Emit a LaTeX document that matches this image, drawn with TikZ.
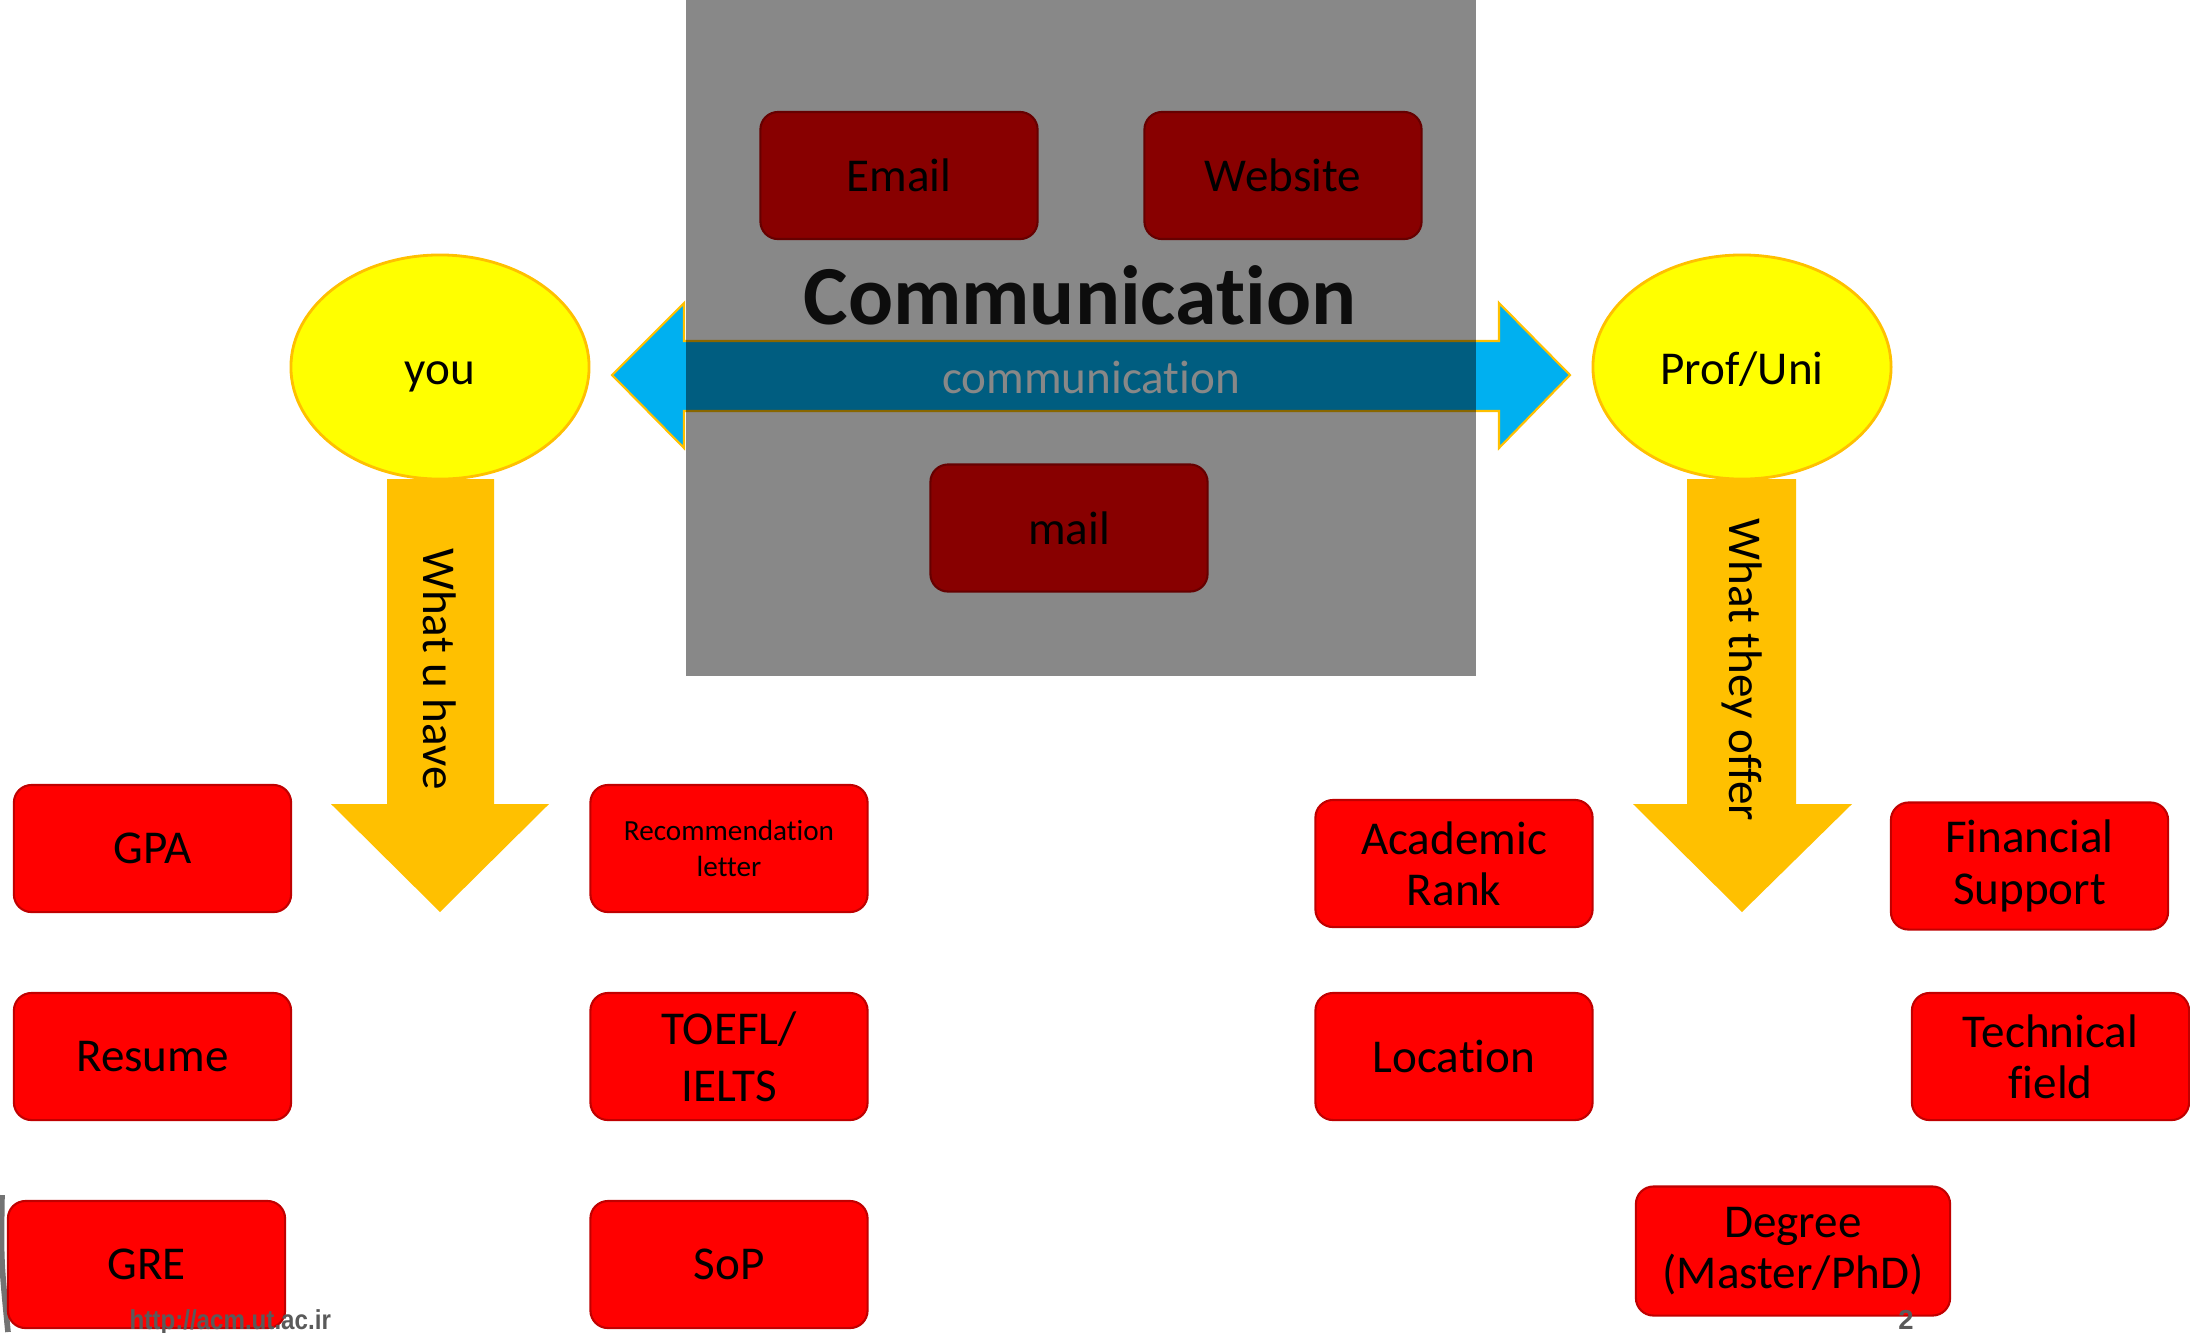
\documentclass[tikz,border=0pt]{standalone}
\usepackage{fontspec}
\setmainfont{Carlito}[Ligatures=NoCommon]
\newfontfamily\footfont{Liberation Sans}
\usetikzlibrary{shapes.geometric}
\definecolor{boxred}{HTML}{FF0000}
\definecolor{boxborder}{HTML}{C00000}
\definecolor{ellfill}{HTML}{FFFF00}
\definecolor{gold}{HTML}{FFC000}
\definecolor{skyblue}{HTML}{00B0F0}
\definecolor{footgray}{HTML}{5A5A5A}
\newcommand{\mainsize}{\fontsize{13.4}{14.6}\selectfont}
\begin{document}
\begin{tikzpicture}[x=0.01cm,y=-0.01cm,
  redbox/.style={draw=boxborder, fill=boxred, line width=0.6pt, rounded corners=5pt,
    minimum width=2.77cm, minimum height=1.27cm, align=center, inner sep=0pt, font=\mainsize},
  ellnode/.style={ellipse, draw=gold, fill=ellfill, line width=0.8pt,
    minimum width=2.98cm, minimum height=2.24cm, inner sep=0pt, font=\mainsize,
    text height=0.34cm, text depth=0pt},
  bigarrow/.style={fill=gold},
  arrowlabel/.style={font=\mainsize, rotate=-90, inner sep=0pt},
  footer/.style={font=\footfont\bfseries\fontsize{7.8}{9}\selectfont, text=footgray, inner sep=0pt}]
\clip (0,0) rectangle (2190,1332);
\fill[white] (0,0) rectangle (2190,1332);

% blue double arrow
\filldraw[fill=skyblue, draw=gold, line width=0.6pt]
  (612,375) -- (684,303) -- (684,341) -- (1499,341) -- (1499,303) -- (1570,375)
  -- (1499,448) -- (1499,411) -- (684,411) -- (684,448) -- cycle;
\node[font=\mainsize, text=white, inner sep=0pt] (commlabel) at (1091,377) {communication};

% media boxes
\node[redbox] (email) at (899,175.5) {Email};
\node[redbox] (website) at (1283,175.5) {Website};
\node[redbox] (mail) at (1069,528) {mail};

% dark overlay
\fill[black, opacity=0.467] (686,0) rectangle (1476,676);
\node[font=\bfseries\fontsize{23.9}{26}\selectfont, text=black!95, anchor=base, inner sep=0pt]
  (title) at (1080,324) {Communication};

% yellow down arrows
\fill[bigarrow] (387,479) -- (494,479) -- (494,804) -- (549,804) -- (440,912) -- (331,804) -- (387,804) -- cycle;
\fill[bigarrow] (1687,479) -- (1796,479) -- (1796,804) -- (1852,804) -- (1742,912) -- (1633,804) -- (1687,804) -- cycle;
\node[arrowlabel] (have) at (440,669) {What u have};
\node[arrowlabel] (offer) at (1742,670) {What they offer};

% ellipses
\node[ellnode] (you) at (440,367) {you};
\node[ellnode] (prof) at (1742,367) {Prof/Uni};

% smudge at left edge
\draw[black, opacity=0.55, line width=1.6pt] (2,1195) .. controls (1,1260) .. (8,1332);

% left column boxes
\node[redbox] (gpa) at (152.5,848.5) {GPA};
\node[redbox, font=\fontsize{8.3}{10}\selectfont] (rec) at (729,848.5) {Recommendation\\letter};
\node[redbox] (resume) at (152.5,1056.5) {Resume};
\node[redbox] (toefl) at (729,1056.5) {TOEFL/\\[1.6pt]IELTS};
\node[redbox] (gre) at (146.5,1264.5) {GRE};
\node[redbox] (sop) at (729,1264.5) {SoP};

% right column boxes
\node[redbox] (rank) at (1454,863.5) {Academic\\Rank};
\node[redbox] (fin) at (2029.5,866) {Financial\\Support};
\node[redbox] (loc) at (1454,1056.5) {Location};
\node[redbox] (tech) at (2050.5,1056.5) {Technical\\field};
\node[redbox, minimum width=3.14cm, minimum height=1.29cm] (degree) at (1793,1251) {Degree\\(Master/PhD)};

% footer
\node[footer, anchor=base west] (url) at (129,1329) {\scalebox{0.88}[1]{http://acm.ut.ac.ir}};
\node[footer, anchor=base] (page) at (1906,1329) {2};
\end{tikzpicture}
\end{document}
